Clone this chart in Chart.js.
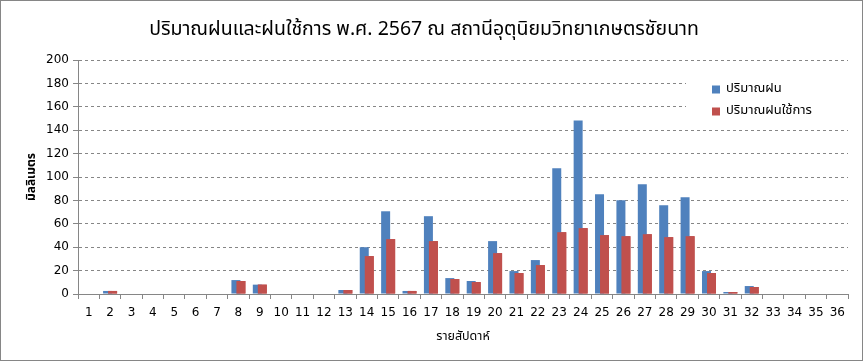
<!DOCTYPE html>
<html>
<head>
<meta charset="utf-8">
<script src="https://cdn.jsdelivr.net/npm/chart.js@4.4.0/dist/chart.umd.min.js"></script>
<style>
  html, body { margin: 0; padding: 0; background: #fff; }
  #wrap { width: 864px; height: 362px; }
</style>
</head>
<body>
<div id="wrap"><canvas id="rainChart" width="864" height="362"></canvas></div>
<script>
// weekly rainfall, Chainat agromet station 2567
const weeks = ['1','2','3','4','5','6','7','8','9','10','11','12','13','14','15','16','17','18',
               '19','20','21','22','23','24','25','26','27','28','29','30','31','32','33','34','35','36'];
const rainfall = [0, 2.6, 0, 0, 0, 0, 0, 11.9, 8.0, 0, 0, 0, 3.4, 40.0, 70.7, 2.6, 66.5, 13.6,
                  11.1, 45.2, 19.6, 29.0, 107.4, 148.3, 85.2, 80.1, 93.8, 75.9, 82.7, 19.6, 1.7, 6.8, 0, 0, 0, 0];
const effectiveRain = [0, 2.6, 0, 0, 0, 0, 0, 11.1, 8.0, 0, 0, 0, 3.4, 32.4, 46.9, 2.6, 45.2, 12.8,
                       10.2, 34.9, 17.9, 24.7, 52.8, 56.3, 50.3, 49.4, 51.1, 48.6, 49.4, 17.9, 1.7, 6.0, 0, 0, 0, 0];
const seriesNames = ['ปริมาณฝน', 'ปริมาณฝนใช้การ'];
const yMin = 0, yMax = 200, yStep = 20;

const thaiFont = "Tahoma, 'Noto Sans Thai', 'Noto Sans', 'DejaVu Sans', sans-serif";
const numFont = "'DejaVu Sans', sans-serif";
const gridGrey = '#868686';

// white page + thin grey frame round the whole chart
const frame = {
  id: 'frame',
  beforeDraw(chart) {
    const ctx = chart.ctx;
    ctx.save();
    ctx.fillStyle = '#fff';
    ctx.fillRect(0, 0, chart.width, chart.height);
    ctx.strokeStyle = gridGrey;
    ctx.lineWidth = 1;
    ctx.strokeRect(0.5, 0.5, chart.width - 2, chart.height - 2);
    ctx.restore();
  }
};

// effective rain bar sits over the rainfall bar, like the excel overlap
const redOnTop = {
  id: 'redOnTop',
  afterDatasetsDraw(chart) {
    const ctx = chart.ctx;
    ctx.save();
    chart.getDatasetMeta(1).data.forEach(el => el.draw(ctx));
    ctx.restore();
  }
};

// legend box inside the plot, top right
const insideLegend = {
  id: 'insideLegend',
  afterDraw(chart) {
    const ctx = chart.ctx;
    ctx.save();
    ctx.fillStyle = '#fff';
    ctx.fillRect(686, 72, 162, 52);
    ctx.font = '13px ' + thaiFont;
    ctx.textBaseline = 'middle';
    chart.data.datasets.forEach((ds, i) => {
      const y = 89.5 + i * 22;
      ctx.fillStyle = ds.backgroundColor;
      ctx.fillRect(712, y - 4, 8, 8);
      ctx.fillStyle = '#000';
      ctx.fillText(ds.label, 726, y);
    });
    ctx.restore();
  }
};

new Chart(document.getElementById('rainChart'), {
  type: 'bar',
  data: {
    labels: weeks,
    datasets: [
      { label: seriesNames[0], data: rainfall, backgroundColor: '#4F81BD' },
      { label: seriesNames[1], data: effectiveRain, backgroundColor: '#C0504D' }
    ]
  },
  options: {
    responsive: false,
    animation: false,
    devicePixelRatio: 1,
    layout: { padding: { left: 0, right: 16, top: 0, bottom: 0 } },
    datasets: { bar: { categoryPercentage: 0.4675, barPercentage: 1.8 } },
    plugins: {
      legend: { display: false },
      tooltip: { enabled: false },
      title: {
        display: true,
        text: 'ปริมาณฝนและฝนใช้การ พ.ศ. 2567 ณ สถานีอุตุนิยมวิทยาเกษตรชัยนาท',
        color: '#000',
        font: { family: thaiFont, size: 19.5, weight: 'normal' },
        padding: { top: 19, bottom: 17.6 }
      }
    },
    scales: {
      x: {
        grid: { display: true, drawOnChartArea: false, offset: true, tickLength: 5, color: gridGrey },
        border: { color: gridGrey },
        ticks: { color: '#000', font: { family: numFont, size: 12 }, padding: 7, maxRotation: 0, autoSkip: false },
        title: {
          display: true, text: 'รายสัปดาห์', color: '#000',
          font: { family: thaiFont, size: 12.5 }, padding: { top: 0, bottom: 17 }
        },
        afterFit(scale) { scale.height = 68; }
      },
      y: {
        min: yMin, max: yMax,
        grid: { color: gridGrey, tickLength: 5, tickColor: gridGrey },
        border: { color: gridGrey, dash: [3, 3] },
        ticks: { stepSize: yStep, color: '#000', font: { family: numFont, size: 12 }, padding: 4 },
        title: {
          display: true, text: 'มิลลิเมตร', color: '#000',
          font: { family: thaiFont, size: 12, weight: 'bold' }, padding: { top: 25, bottom: 0 }
        },
        afterFit(scale) { scale.width = 78; }
      }
    }
  },
  plugins: [frame, redOnTop, insideLegend]
});
</script>
</body>
</html>
